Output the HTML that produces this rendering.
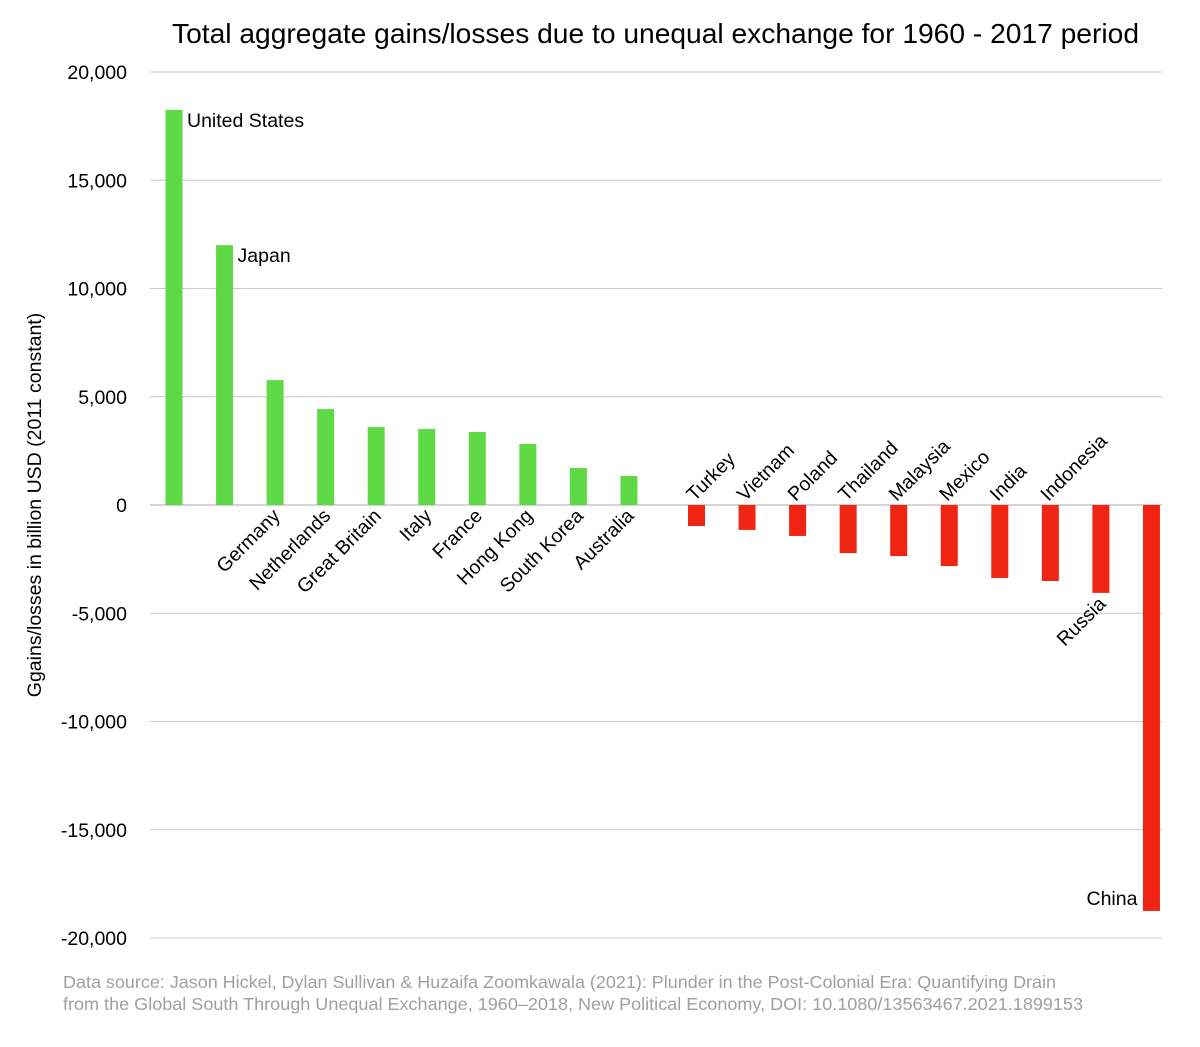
<!DOCTYPE html>
<html><head><meta charset="utf-8"><style>
body{margin:0;background:#fff}
svg text{font-family:"Liberation Sans",Arial,sans-serif}
</style></head><body>
<svg id="chart" width="1200" height="1042" xmlns="http://www.w3.org/2000/svg">
<text x="172" y="43" font-size="28" textLength="967" lengthAdjust="spacingAndGlyphs" fill="#000">Total aggregate gains/losses due to unequal exchange for 1960 - 2017 period</text>
<g id="grid"></g>
<g id="bars"></g>
<g id="labels"></g>
<text transform="translate(41,505) rotate(-90)" font-size="19.5" text-anchor="middle">Ggains/losses in billion USD (2011 constant)</text>
<text x="63" y="988" font-size="17.5" textLength="993" lengthAdjust="spacingAndGlyphs" fill="#a0a0a0">Data source: Jason Hickel, Dylan Sullivan &amp; Huzaifa Zoomkawala (2021): Plunder in the Post-Colonial Era: Quantifying Drain</text>
<text x="63" y="1010" font-size="17.5" textLength="1020" lengthAdjust="spacingAndGlyphs" fill="#a0a0a0">from the Global South Through Unequal Exchange, 1960–2018, New Political Economy, DOI: 10.1080/13563467.2021.1899153</text>
</svg>
<script>
const categories=["United States","Japan","Germany","Netherlands","Great Britain","Italy","France","Hong Kong","South Korea","Australia","Turkey","Vietnam","Poland","Thailand","Malaysia","Mexico","India","Indonesia","Russia","China"];
const values=[18250,12000,5770,4430,3600,3510,3370,2820,1710,1340,-970,-1150,-1430,-2220,-2360,-2820,-3370,-3510,-4060,-18750];
const yTicks=[20000,15000,10000,5000,0,-5000,-10000,-15000,-20000];
const yTickLabels=["20,000","15,000","10,000","5,000","0","-5,000","-10,000","-15,000","-20,000"];
const NS="http://www.w3.org/2000/svg";
const y0=505, pxPer=433/20000;
function y(v){return y0-v*pxPer;}
function x(i){return 174+i*50.55+(i>=10?17:0);}
function mk(tag,attrs,parent){const e=document.createElementNS(NS,tag);for(const k in attrs)e.setAttribute(k,attrs[k]);document.getElementById(parent).appendChild(e);return e;}
yTicks.forEach((t,i)=>{
  const l=mk('line',{x1:150,x2:1162,y1:y(t),y2:y(t),stroke:t===0?'#aaa':'#c8c8c8','stroke-width':1},'grid');
  
  
  const tx=mk('text',{x:127,y:y(t)+7,'font-size':19.5,'text-anchor':'end'},'grid');
  tx.textContent=yTickLabels[i];
  
  
});
categories.forEach((c,i)=>{
  const v=values[i],cx=x(i);
  const r=mk('rect',{x:cx-8.5,width:17,y:Math.min(y(v),y0),height:Math.abs(y(v)-y0),fill:v>=0?'#5fd946':'#ef2412'},'bars');
  
  
  let t;
  if(i<=1){t=mk('text',{x:cx+13,y:y(v)+17,'font-size':19.5},'labels');}
  else if(i===categories.length-1){t=mk('text',{x:cx-14,y:y(v)-6,'font-size':19.5,'text-anchor':'end'},'labels');}
  else if(v>=0){t=mk('text',{'font-size':19.5,'text-anchor':'end',transform:`translate(${cx+6},${y0+12}) rotate(-45)`},'labels');}
  else if(i===categories.length-2){t=mk('text',{'font-size':19.5,'text-anchor':'end',transform:`translate(${cx+6},${y(v)+12}) rotate(-45)`},'labels');}
  else {t=mk('text',{'font-size':19.5,transform:`translate(${cx-2},${y0-3}) rotate(-45)`},'labels');}
  t.textContent=c;
  
  
});
</script>
</body></html>
